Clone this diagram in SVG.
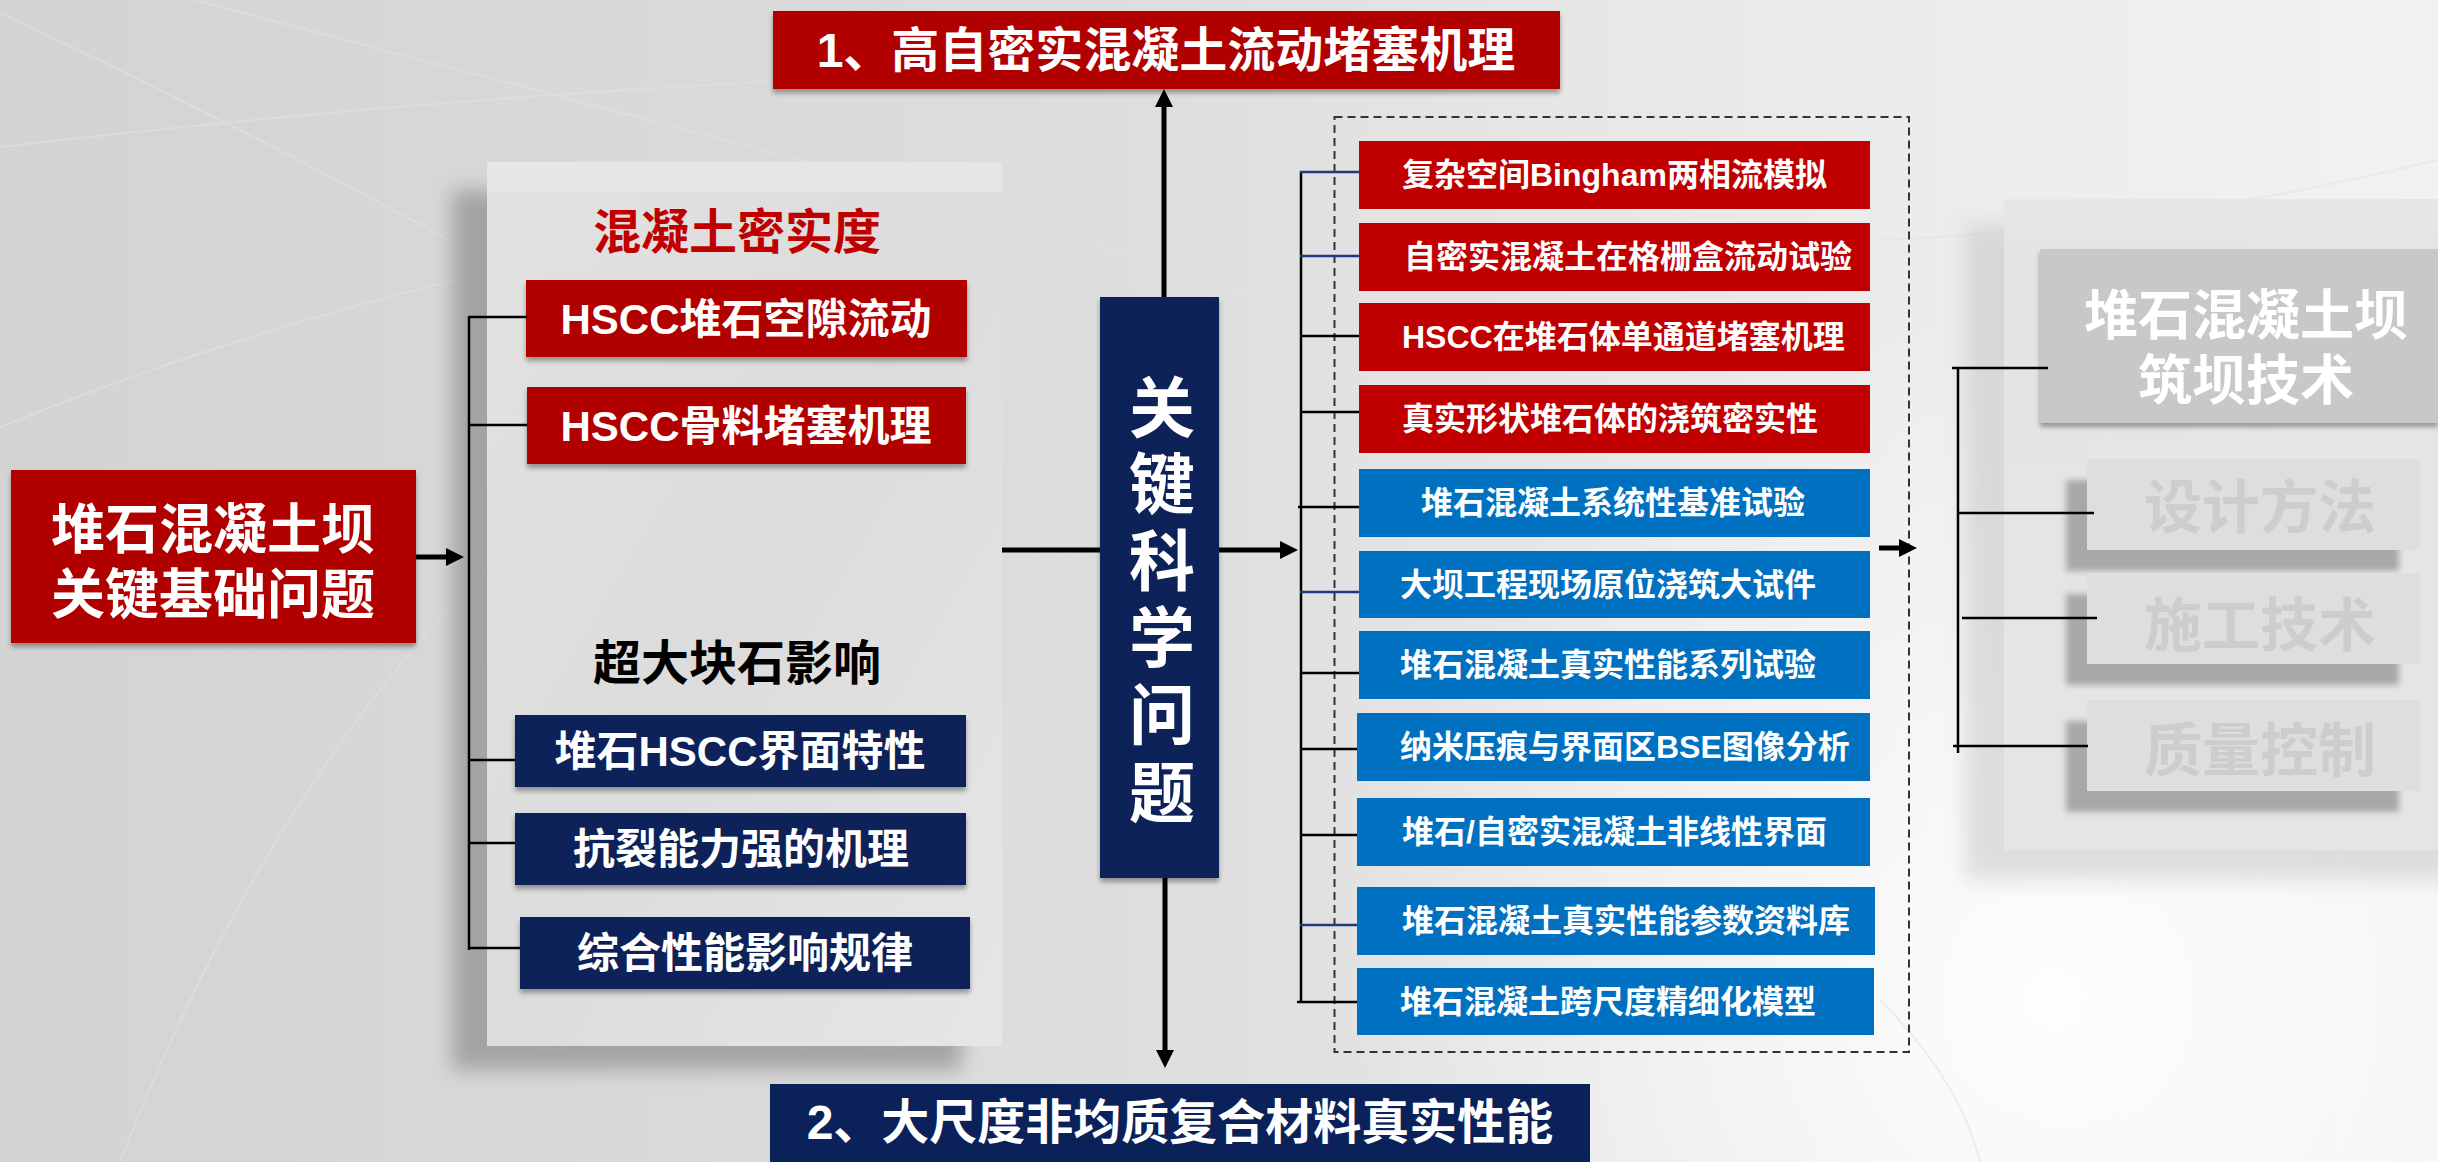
<svg xmlns="http://www.w3.org/2000/svg" width="2438" height="1162" viewBox="0 0 2438 1162">
<defs>
  <linearGradient id="bg" x1="0" y1="0" x2="1" y2="0">
    <stop offset="0" stop-color="#d3d3d3"/>
    <stop offset="0.45" stop-color="#dddddd"/>
    <stop offset="0.7" stop-color="#e9e9e9"/>
    <stop offset="1" stop-color="#f2f2f2"/>
  </linearGradient>
  <radialGradient id="glow" cx="2050" cy="1000" r="700" gradientUnits="userSpaceOnUse">
    <stop offset="0" stop-color="#ffffff" stop-opacity="0.9"/>
    <stop offset="1" stop-color="#ffffff" stop-opacity="0"/>
  </radialGradient>
  <linearGradient id="panelL" x1="0" y1="0" x2="1" y2="1">
    <stop offset="0" stop-color="#e2e2e2"/>
    <stop offset="0.5" stop-color="#dcdcdc"/>
    <stop offset="1" stop-color="#e6e6e6"/>
  </linearGradient>
  <filter id="blur10" x="-20%" y="-20%" width="140%" height="140%"><feGaussianBlur stdDeviation="10"/></filter>
  <filter id="blur3" x="-10%" y="-20%" width="120%" height="140%"><feGaussianBlur stdDeviation="3"/></filter>
  <filter id="sh" x="-5%" y="-10%" width="110%" height="140%"><feDropShadow dx="0" dy="4" stdDeviation="2.5" flood-color="#000" flood-opacity="0.35"/></filter>
  <marker id="ah" markerUnits="userSpaceOnUse" markerWidth="18" markerHeight="18" refX="0" refY="9" orient="auto">
    <path d="M0,0 L18,9 L0,18 z" fill="#000"/>
  </marker>
</defs>
<style>
  .t { font-family: "Liberation Sans", "Noto Sans CJK SC", sans-serif; font-weight: 700; }
  .w { fill: #ffffff; }
  .red { fill: #b00606; }
  .red2 { fill: #c00000; }
  .navy { fill: #0a2159; }
  .blue { fill: #0070c0; }
  .mid { text-anchor: middle; }
  .st { text-anchor: start; }
  .f32 { font-size: 32px; }
  .f42 { font-size: 42px; }
  .f48 { font-size: 48px; }
  .f54 { font-size: 54px; }
  .f58 { font-size: 58px; }
  .f66 { font-size: 66px; }
  .br { stroke: #000; stroke-width: 2.5; fill: none; }
  .brn { stroke: #1f3a7e; stroke-width: 2.5; fill: none; }
  .arr { stroke: #000; stroke-width: 5; fill: none; marker-end: url(#ah); }
  .ln5 { stroke: #000; stroke-width: 5; fill: none; }
  .bgl { stroke: #e2e2da; stroke-width: 2; fill: none; opacity: 0.55; }
  .sub { fill: #dedede; }
  .subsh { fill: #a8a8a8; }
  .subt { fill: #cdcdcd; }
</style>

<!-- background -->
<rect x="0" y="0" width="2438" height="1162" fill="url(#bg)"/>
<rect x="0" y="0" width="2438" height="1162" fill="url(#glow)"/>
<g id="bg-lines">
  <path class="bgl" d="M0,13 Q250,130 485,260 T980,560"/>
  <path class="bgl" d="M194,0 Q500,80 800,160 T1350,330"/>
  <path class="bgl" d="M0,147 Q400,100 800,80 T1500,60"/>
  <path class="bgl" d="M0,427 Q240,330 485,273"/>
  <path class="bgl" d="M120,1162 Q300,700 600,470"/>
  <path class="bgl" d="M1880,1000 Q1960,1080 1980,1162"/>
  <path class="bgl" d="M1880,240 Q2150,230 2438,160"/>
</g>

<!-- left panel -->
<g id="panel-left">
  <rect x="452" y="190" width="510" height="880" fill="#8e8e8e" opacity="0.7" filter="url(#blur10)"/>
  <rect x="487" y="162" width="515" height="884" fill="url(#panelL)"/>
  <rect x="487" y="162" width="515" height="30" fill="#e8e8e8" opacity="0.7"/>
</g>

<!-- right faded panel -->
<g id="panel-right">
  <rect x="1965" y="225" width="490" height="655" fill="#bdbdbd" opacity="0.45" filter="url(#blur10)"/>
  <rect x="2004" y="199" width="434" height="651" fill="#e6e6e6" opacity="0.9"/>
</g>

<!-- nodes -->
<g id="node-main">
  <rect x="11" y="470" width="405" height="173" class="red" filter="url(#sh)"/>
  <text class="t w mid f54" x="213" y="549">堆石混凝土坝</text>
  <text class="t w mid f54" x="213" y="614">关键基础问题</text>
</g>

<g id="node-title-density">
  <text class="t mid f48" x="737" y="249" fill="#c00000">混凝土密实度</text>
</g>
<g id="node-hscc-flow">
  <rect x="526" y="280" width="441" height="77" class="red" filter="url(#sh)"/>
  <text class="t w mid f42" x="746" y="334">HSCC堆石空隙流动</text>
</g>
<g id="node-hscc-block">
  <rect x="527" y="387" width="439" height="77" class="red" filter="url(#sh)"/>
  <text class="t w mid f42" x="746" y="441">HSCC骨料堵塞机理</text>
</g>
<g id="node-title-rock">
  <text class="t mid f48" x="737" y="680" fill="#000">超大块石影响</text>
</g>
<g id="node-interface">
  <rect x="515" y="715" width="451" height="72" class="navy" filter="url(#sh)"/>
  <text class="t w mid f42" x="740" y="766">堆石HSCC界面特性</text>
</g>
<g id="node-crack">
  <rect x="515" y="813" width="451" height="72" class="navy" filter="url(#sh)"/>
  <text class="t w mid f42" x="741" y="864">抗裂能力强的机理</text>
</g>
<g id="node-overall">
  <rect x="520" y="917" width="450" height="72" class="navy" filter="url(#sh)"/>
  <text class="t w mid f42" x="745" y="968">综合性能影响规律</text>
</g>

<g id="node-top">
  <rect x="773" y="11" width="787" height="78" fill="#b00606" filter="url(#sh)"/>
  <text class="t w mid f48" x="1166" y="67">1、高自密实混凝土流动堵塞机理</text>
</g>
<g id="node-bottom">
  <rect x="770" y="1084" width="820" height="90" class="navy"/>
  <text class="t w mid f48" x="1180" y="1139">2、大尺度非均质复合材料真实性能</text>
</g>

<g id="node-center">
  <rect x="1100" y="297" width="119" height="581" class="navy" filter="url(#sh)"/>
  <text class="t w mid f66" x="1162" y="432">关</text>
  <text class="t w mid f66" x="1162" y="508">键</text>
  <text class="t w mid f66" x="1162" y="585">科</text>
  <text class="t w mid f66" x="1162" y="662">学</text>
  <text class="t w mid f66" x="1162" y="739">问</text>
  <text class="t w mid f66" x="1162" y="817">题</text>
</g>

<g id="node-dashed">
  <rect x="1334.5" y="117" width="574.5" height="935" fill="none" stroke="#333" stroke-width="2" stroke-dasharray="8 5"/>
</g>

<g id="node-r1"><rect x="1359" y="141" width="511" height="68" class="red2"/><text class="t w st f32" x="1402" y="186">复杂空间Bingham两相流模拟</text></g>
<g id="node-r2"><rect x="1359" y="223" width="511" height="68" class="red2"/><text class="t w st f32" x="1404" y="268">自密实混凝土在格栅盒流动试验</text></g>
<g id="node-r3"><rect x="1359" y="303" width="511" height="68" class="red2"/><text class="t w st f32" x="1402" y="348">HSCC在堆石体单通道堵塞机理</text></g>
<g id="node-r4"><rect x="1359" y="385" width="511" height="68" class="red2"/><text class="t w st f32" x="1402" y="430">真实形状堆石体的浇筑密实性</text></g>
<g id="node-r5"><rect x="1359" y="469" width="511" height="68" class="blue"/><text class="t w st f32" x="1421" y="514">堆石混凝土系统性基准试验</text></g>
<g id="node-r6"><rect x="1359" y="551" width="511" height="67" class="blue"/><text class="t w st f32" x="1400" y="596">大坝工程现场原位浇筑大试件</text></g>
<g id="node-r7"><rect x="1359" y="631" width="511" height="68" class="blue"/><text class="t w st f32" x="1400" y="676">堆石混凝土真实性能系列试验</text></g>
<g id="node-r8"><rect x="1357" y="713" width="513" height="68" class="blue"/><text class="t w st f32" x="1400" y="758">纳米压痕与界面区BSE图像分析</text></g>
<g id="node-r9"><rect x="1357" y="798" width="513" height="68" class="blue"/><text class="t w st f32" x="1402" y="843">堆石/自密实混凝土非线性界面</text></g>
<g id="node-r10"><rect x="1357" y="887" width="518" height="68" class="blue"/><text class="t w st f32" x="1402" y="932">堆石混凝土真实性能参数资料库</text></g>
<g id="node-r11"><rect x="1357" y="968" width="517" height="67" class="blue"/><text class="t w st f32" x="1400" y="1013">堆石混凝土跨尺度精细化模型</text></g>

<g id="node-dam-tech">
  <rect x="2040" y="249" width="398" height="174" fill="#c8c8c8" filter="url(#sh)"/>
  <text class="t w mid f54" x="2246" y="335">堆石混凝土坝</text>
  <text class="t w mid f54" x="2246" y="400">筑坝技术</text>
</g>
<g id="node-design">
  <rect x="2066" y="480" width="333" height="91" class="subsh" filter="url(#blur3)"/>
  <rect x="2087" y="459" width="333" height="91" class="sub"/>
  <text class="t subt mid f58" x="2260" y="528">设计方法</text>
</g>
<g id="node-construct">
  <rect x="2066" y="594" width="333" height="91" class="subsh" filter="url(#blur3)"/>
  <rect x="2087" y="573" width="333" height="91" class="sub"/>
  <text class="t subt mid f58" x="2260" y="646">施工技术</text>
</g>
<g id="node-quality">
  <rect x="2066" y="721" width="333" height="91" class="subsh" filter="url(#blur3)"/>
  <rect x="2087" y="700" width="333" height="91" class="sub"/>
  <text class="t subt mid f58" x="2260" y="771">质量控制</text>
</g>

<!-- connectors -->
<g id="connectors">
  <line class="arr" x1="416" y1="557" x2="446" y2="557"/>
  <line class="br" x1="469" y1="316" x2="469" y2="950"/>
  <line class="br" x1="469" y1="317" x2="527" y2="317"/>
  <line class="br" x1="469" y1="425" x2="527" y2="425"/>
  <line class="br" x1="469" y1="760" x2="515" y2="760"/>
  <line class="br" x1="469" y1="843" x2="515" y2="843"/>
  <line class="br" x1="469" y1="948" x2="520" y2="948"/>

  <line class="ln5" x1="1002" y1="550" x2="1100" y2="550"/>
  <line class="arr" x1="1164" y1="297" x2="1164" y2="107"/>
  <line class="arr" x1="1165" y1="878" x2="1165" y2="1050"/>
  <line class="arr" x1="1219" y1="550" x2="1280" y2="550"/>

  <line class="br" x1="1301" y1="171" x2="1301" y2="1003"/>
  <line class="brn" x1="1300" y1="172" x2="1359" y2="172"/>
  <line class="brn" x1="1300" y1="256" x2="1359" y2="256"/>
  <line class="br" x1="1300" y1="336" x2="1359" y2="336"/>
  <line class="br" x1="1300" y1="412" x2="1359" y2="412"/>
  <line class="br" x1="1298" y1="507" x2="1359" y2="507"/>
  <line class="brn" x1="1300" y1="592" x2="1359" y2="592"/>
  <line class="br" x1="1300" y1="673" x2="1359" y2="673"/>
  <line class="br" x1="1300" y1="749" x2="1357" y2="749"/>
  <line class="br" x1="1300" y1="835" x2="1357" y2="835"/>
  <line class="brn" x1="1300" y1="925" x2="1357" y2="925"/>
  <line class="br" x1="1297" y1="1002" x2="1357" y2="1002"/>

  <line class="arr" x1="1879" y1="548" x2="1899" y2="548"/>

  <line class="br" x1="1958" y1="367" x2="1958" y2="753"/>
  <line class="br" x1="1952" y1="368" x2="2048" y2="368"/>
  <line class="br" x1="1958" y1="513" x2="2094" y2="513"/>
  <line class="br" x1="1962" y1="618" x2="2097" y2="618"/>
  <line class="br" x1="1953" y1="746" x2="2088" y2="746"/>
</g>
</svg>
